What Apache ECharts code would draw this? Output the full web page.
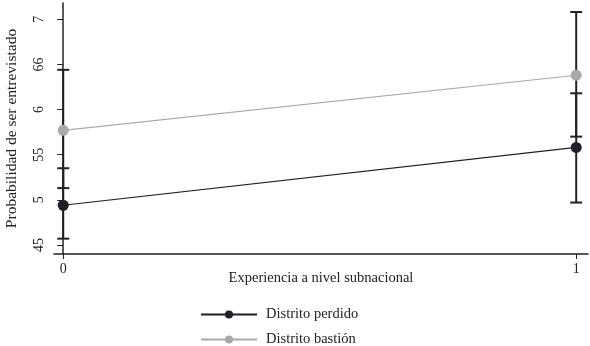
<!DOCTYPE html>
<html>
<head>
<meta charset="utf-8">
<script src="https://cdn.jsdelivr.net/npm/echarts@6/dist/echarts.min.js"></script>
<style>
  html, body { margin: 0; padding: 0; background: #fff; }
  #chart { width: 590px; height: 346px; }
</style>
</head>
<body>
<div id="chart"></div>
<script>
// x positions: 0 = sin experiencia, 1 = con experiencia subnacional
const xValues = [0, 1]
const perdidoEst = [0.494, 0.558]
const perdidoLo = [0.457, 0.497]
const perdidoHi = [0.535, 0.618]
const bastionEst = [0.577, 0.638]
const bastionLo = [0.513, 0.570]
const bastionHi = [0.644, 0.708]
const yTicks = [0.45, 0.5, 0.55, 0.6, 0.65, 0.7]
const yLabels = ['45', '5', '55', '6', '66', '7']

const FONT = 'Liberation Serif'
const chart = echarts.init(document.getElementById('chart'))

function errorBars(lo, hi) {
    return xValues.map((x, i) => [x, lo[i], hi[i]])
}

function renderBar(params, api) {
    const top = api.coord([api.value(0), api.value(2)])
    const bot = api.coord([api.value(0), api.value(1)])
    const cap = 6
    const style = { stroke: '#222', lineWidth: 2 }
    return {
        type: 'group',
        children: [
            { type: 'line', shape: { x1: top[0], y1: top[1], x2: bot[0], y2: bot[1] }, style: style },
            { type: 'line', shape: { x1: top[0] - cap, y1: top[1], x2: top[0] + cap, y2: top[1] }, style: style },
            { type: 'line', shape: { x1: bot[0] - cap, y1: bot[1], x2: bot[0] + cap, y2: bot[1] }, style: style }
        ]
    }
}

chart.setOption({
    animation: false,
    textStyle: { fontFamily: FONT },
    grid: { left: 54, right: 2, top: 3, bottom: 92, containLabel: false, outerBoundsMode: 'none' },
    legend: {
        data: ['Distrito perdido', 'Distrito bastión'],
        orient: 'vertical',
        left: 195,
        top: 302,
        height: 60,
        itemWidth: 56,
        itemHeight: 10,
        itemGap: 10,
        textStyle: { fontFamily: FONT, fontSize: 14.5, color: '#222', padding: [0, 0, 0, 4] }
    },
    xAxis: {
        type: 'value',
        min: -0.018,
        max: 1.023,
        name: 'Experiencia a nivel subnacional',
        nameLocation: 'middle',
        nameGap: 17,
        nameMoveOverlap: false,
        nameTextStyle: { fontFamily: FONT, fontSize: 14.5, color: '#222' },
        axisLine: { lineStyle: { color: '#222', width: 1.5 } },
        axisTick: { customValues: xValues, length: 5, lineStyle: { color: '#222' } },
        axisLabel: { customValues: xValues, fontFamily: FONT, fontSize: 14, color: '#222', margin: 8 },
        splitLine: { show: false }
    },
    yAxis: {
        type: 'value',
        min: 0.44,
        max: 0.718,
        name: 'Probabilidad de ser entrevistado',
        nameLocation: 'middle',
        nameRotate: 90,
        nameGap: 34,
        nameMoveOverlap: false,
        nameTextStyle: { fontFamily: FONT, fontSize: 15.5, color: '#222' },
        axisLine: { show: true, lineStyle: { color: '#222', width: 1.5 } },
        axisTick: { show: true, customValues: yTicks, length: 6, lineStyle: { color: '#222' } },
        axisLabel: {
            customValues: yTicks,
            rotate: 90,
            margin: 8,
            fontFamily: FONT,
            fontSize: 14,
            color: '#222',
            formatter: function (v) {
                let best = 0
                yTicks.forEach((t, i) => { if (Math.abs(t - v) < Math.abs(yTicks[best] - v)) best = i })
                return yLabels[best]
            }
        },
        splitLine: { show: false }
    },
    series: [
        {
            type: 'custom',
            renderItem: renderBar,
            data: errorBars(perdidoLo, perdidoHi),
            z: 1
        },
        {
            type: 'custom',
            renderItem: renderBar,
            data: errorBars(bastionLo, bastionHi),
            z: 1
        },
        {
            name: 'Distrito bastión',
            type: 'line',
            data: xValues.map((x, i) => [x, bastionEst[i]]),
            symbol: 'circle',
            symbolSize: 11,
            itemStyle: { color: '#a9a9ad' },
            lineStyle: { color: '#a9a9ad', width: 1.2 },
            z: 3
        },
        {
            name: 'Distrito perdido',
            type: 'line',
            data: xValues.map((x, i) => [x, perdidoEst[i]]),
            symbol: 'circle',
            symbolSize: 11,
            itemStyle: { color: '#1e1e24' },
            lineStyle: { color: '#1e1e24', width: 1.2 },
            z: 3
        }
    ]
})
</script>
</body>
</html>
